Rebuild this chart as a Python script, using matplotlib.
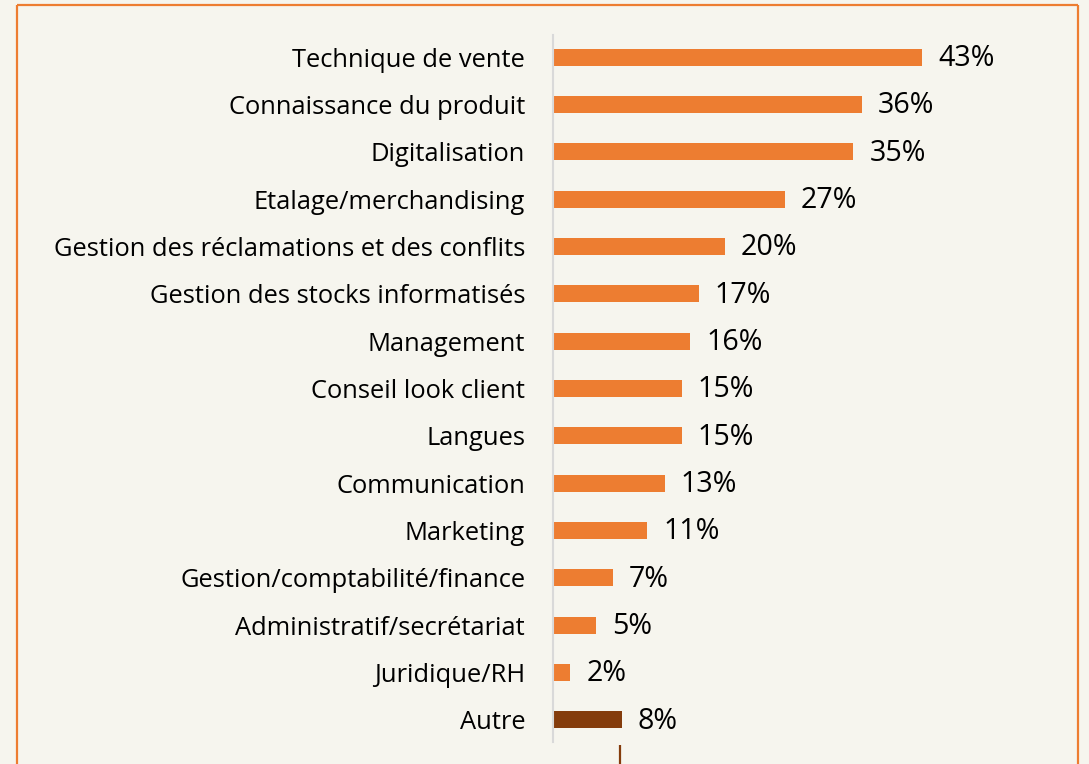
import matplotlib
matplotlib.use("Agg")
import matplotlib.pyplot as plt
from matplotlib.lines import Line2D

categories = [
    "Technique de vente",
    "Connaissance du produit",
    "Digitalisation",
    "Etalage/merchandising",
    "Gestion des réclamations et des conflits",
    "Gestion des stocks informatisés",
    "Management",
    "Conseil look client",
    "Langues",
    "Communication",
    "Marketing",
    "Gestion/comptabilité/finance",
    "Administratif/secrétariat",
    "Juridique/RH",
    "Autre",
]
values = [43, 36, 35, 27, 20, 17, 16, 15, 15, 13, 11, 7, 5, 2, 8]
value_labels = ["43%", "36%", "35%", "27%", "20%", "17%", "16%", "15%", "15%",
                "13%", "11%", "7%", "5%", "2%", "8%"]

BG = "#F6F5EE"
ORANGE = "#ED7D31"
BROWN = "#843C0C"

plt.rcParams["font.family"] = ["Open Sans", "DejaVu Sans"]

W, H = 1089, 764
fig = plt.figure(figsize=(W / 100, H / 100), dpi=100, facecolor=BG)

ax_left, ax_right = 553 / W, 982 / W
ax_top, ax_bottom = 1 - 35 / H, 1 - 742 / H
ax = fig.add_axes([ax_left, ax_bottom, ax_right - ax_left, ax_top - ax_bottom])
ax.set_facecolor(BG)

colors = [ORANGE] * (len(values) - 1) + [BROWN]
ypos = list(range(len(categories)))
ax.barh(ypos, values, height=0.36, color=colors)

ax.set_xlim(0, 50)
ax.set_ylim(14.47, -0.47)

for y, v, lab in zip(ypos, values, value_labels):
    ax.annotate(lab, xy=(v, y), xytext=(11.5, -1), textcoords="offset points",
                ha="left", va="center", fontsize=20.6, color="#000000")

ax.set_yticks(ypos)
ax.set_yticklabels(categories, fontsize=18.4, color="#000000")
ax.tick_params(axis="y", length=0, pad=20)
ax.set_xticks([])

for side in ("top", "right", "bottom"):
    ax.spines[side].set_visible(False)
ax.spines["left"].set_color("#D9D9D9")
ax.spines["left"].set_linewidth(1.5)

# frame around the chart
def fx(px):
    return px / W

def fy(py):
    return 1 - py / H

frame = dict(color=ORANGE, linewidth=1.6, solid_capstyle="butt")
fig.add_artist(Line2D([fx(17), fx(17)], [fy(5), 0], **frame))
fig.add_artist(Line2D([fx(17), fx(1078)], [fy(5), fy(5)], **frame))
fig.add_artist(Line2D([fx(1078), fx(1078)], [fy(5), 0], **frame))
fig.add_artist(Line2D([fx(620), fx(620)], [fy(745), 0], color=BROWN,
                      linewidth=1.6, solid_capstyle="butt"))

fig.savefig("out.png", dpi=100, facecolor=BG)
